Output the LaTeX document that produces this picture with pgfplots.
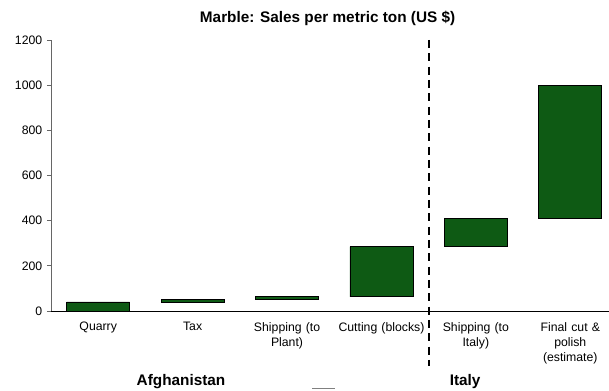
\documentclass[border=0pt]{standalone}
\usepackage{pgfplots}
\pgfplotsset{compat=1.18}
\usepackage{fontspec}
\setmainfont{Liberation Sans}
\definecolor{barg}{HTML}{0E5A14}
\begin{document}
\begin{tikzpicture}[x=1pt,y=1pt]
\useasboundingbox (-38.25,-60) rectangle (418.5,233.25);
\begin{axis}[
  at={(0,0)}, anchor=south west,
  scale only axis,
  width=418.5pt, height=203.25pt,
  xmin=-0.5, xmax=5.41,
  ymin=0, ymax=1200,
  ybar stacked,
  bar width=47.25pt,
  clip=false,
  axis x line=bottom, axis y line=left,
  x axis line style={black, line width=0.6pt, -},
  y axis line style={gray!80!black, line width=0.5pt, -},
  xtick={0,1,2,3,4,5},
  xticklabels={Quarry,Tax,{Shipping (to\\Plant)},Cutting (blocks),{Shipping (to\\Italy)},{Final cut \&\\polish\\(estimate)}},
  xticklabel style={font=\fontsize{9.2}{11.5}\selectfont, align=center, text width=70pt, yshift=-2pt},
  x tick style={draw=none},
  ytick={0,200,...,1200},
  yticklabel style={font=\fontsize{9.2}{11}\selectfont},
  y tick style={gray!80!black, line width=0.5pt},
  tick align=outside,
  major tick length=3pt,
  /pgf/number format/assume math mode=true,
  /pgf/number format/1000 sep={},
]
\addplot[draw=none, fill=none] coordinates {(0,0) (1,40) (2,52) (3,63) (4,285) (5,410)};
\addplot[fill=barg, draw=black, line width=0.5pt] coordinates {(0,40) (1,12) (2,11) (3,222) (4,125) (5,590)};
\draw[black, line width=1.4pt, dash pattern=on 6pt off 4pt] (axis cs:3.5,1200) -- (axis cs:3.5,-244);
\node[font=\fontsize{11.5}{13}\selectfont\bfseries] at (axis cs:2.43,1297) {Marble: Sales per metric ton (US \$)};
\node[font=\fontsize{11.5}{13}\selectfont\bfseries] at (axis cs:0.877,-312) {Afghanistan};
\node[font=\fontsize{11.5}{13}\selectfont\bfseries] at (axis cs:3.886,-312) {Italy};
\draw[gray, line width=0.8pt] (axis cs:2.265,-345) -- (axis cs:2.509,-345);
\end{axis}
\end{tikzpicture}
\end{document}
